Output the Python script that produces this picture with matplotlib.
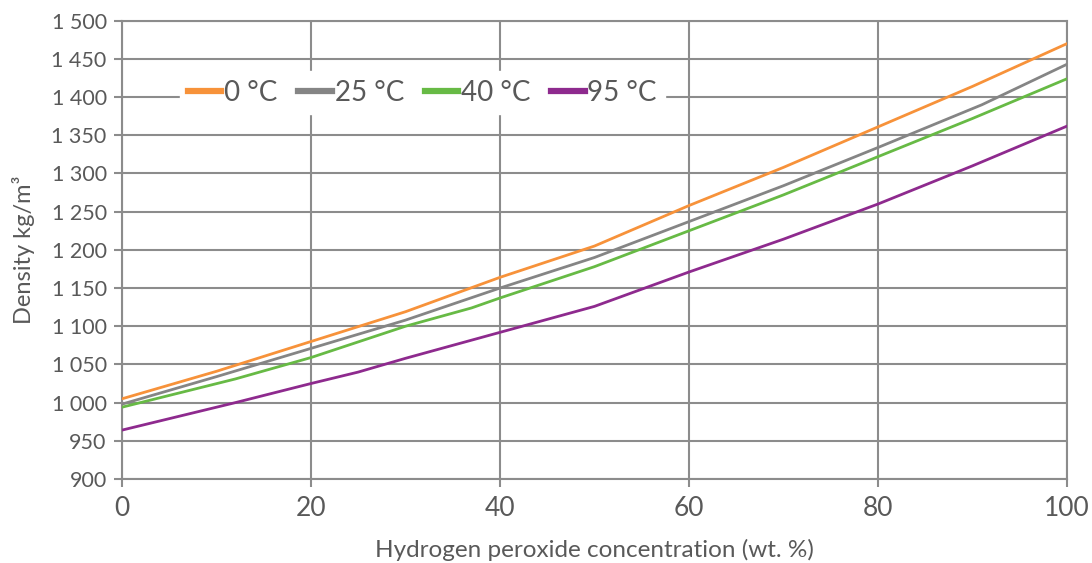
import matplotlib
matplotlib.use("Agg")
import matplotlib.pyplot as plt
from matplotlib.ticker import FuncFormatter

# Data
x_0c = [0, 10, 20, 30, 40, 50, 60, 70, 80, 90, 100]
y_0c = [1005, 1041, 1080, 1119, 1164, 1205, 1258, 1308, 1361, 1414, 1470]

x_25c = [0, 10, 20, 30, 40, 50, 60, 70, 80, 91, 100]
y_25c = [998, 1034, 1071, 1108, 1150, 1190, 1237, 1284, 1334, 1390, 1443]

x_40c = [0, 12, 20, 30, 37, 40, 50, 60, 70, 80, 90, 100]
y_40c = [994, 1031, 1059, 1100, 1124, 1137, 1178, 1225, 1272, 1322, 1372, 1424]

x_95c = [0, 12, 20, 25, 30, 40, 50, 60, 70, 80, 90, 100]
y_95c = [964, 1000, 1025, 1040, 1058, 1092, 1126, 1171, 1214, 1260, 1310, 1362]

series_labels = ["0 °C", "25 °C", "40 °C", "95 °C"]
series_colors = ["#F7923A", "#858585", "#67BA45", "#8E2A8E"]

x_ticks = [0, 20, 40, 60, 80, 100]
y_ticks = list(range(900, 1501, 50))

x_label = "Hydrogen peroxide concentration (wt. %)"
y_label = "Density kg/m³"

plt.rcParams['font.family'] = ['Lato', 'DejaVu Sans']
text_color = "#595959"
grid_color = "#8C8C8C"

fig = plt.figure(figsize=(10.92, 5.63), dpi=100)
ax = fig.add_axes([0.1117, 0.1492, 0.8654, 0.8140])

for xs, ys, lab, col in zip([x_0c, x_25c, x_40c, x_95c],
                            [y_0c, y_25c, y_40c, y_95c],
                            series_labels, series_colors):
    ax.plot(xs, ys, color=col, lw=2.0, label=lab, zorder=3)

ax.set_xlim(0, 100)
ax.set_ylim(900, 1500)
ax.set_xticks(x_ticks)
ax.set_yticks(y_ticks)
ax.yaxis.set_major_formatter(FuncFormatter(
    lambda v, p: (f"{int(v)//1000} {int(v)%1000:03d}" if v >= 1000 else f"{int(v)}")))

ax.grid(True, color=grid_color, lw=1.5, zorder=0)
for s in ax.spines.values():
    s.set_color(grid_color)
    s.set_linewidth(1.5)

ax.tick_params(axis='y', direction='out', length=6, width=1.5, color=grid_color,
               labelsize=15.5, labelcolor=text_color, pad=5)
ax.tick_params(axis='x', direction='out', length=6, width=1.5, color=grid_color,
               labelsize=19, labelcolor=text_color, pad=6)

ax.set_xlabel(x_label, fontsize=17.5, color=text_color, labelpad=13)
ax.set_ylabel(y_label, fontsize=17, color=text_color, labelpad=12)

leg = ax.legend(loc='center', bbox_to_anchor=(0.318, 0.843), ncol=4,
                fontsize=20, frameon=True, fancybox=False, framealpha=1.0,
                edgecolor='white', handlelength=1.2, handletextpad=0.1,
                columnspacing=0.75, borderpad=0.3)
for line in leg.get_lines():
    line.set_linewidth(4.5)
for t in leg.get_texts():
    t.set_color(text_color)

fig.savefig("out.png", dpi=100)
